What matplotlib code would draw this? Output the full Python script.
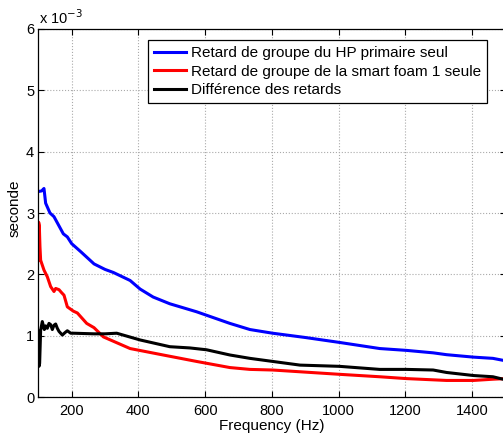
import matplotlib
matplotlib.use('Agg')
import matplotlib.pyplot as plt

plt.rcParams['font.family'] = ['Liberation Sans', 'DejaVu Sans']
plt.rcParams['font.size'] = 10

# group delay of primary speaker alone (x 1e-3 s)
f_hp = [100, 110, 117, 122, 135, 147, 175, 187, 200, 227, 267, 300, 325, 375, 405,
        444, 494, 574, 674, 734, 802, 900, 1002, 1123, 1203, 1283, 1323, 1404, 1462, 1500]
hp = [3.35, 3.36, 3.40, 3.16, 3.00, 2.94, 2.66, 2.61, 2.50, 2.37, 2.17, 2.08, 2.03, 1.90, 1.76,
      1.63, 1.52, 1.39, 1.20, 1.10, 1.04, 0.97, 0.89, 0.79, 0.76, 0.72, 0.69, 0.65, 0.63, 0.59]

# group delay of smart foam 1 alone
f_sf = [100, 101, 103, 105, 107, 117, 127, 137, 147, 152, 162, 170, 177, 187, 205, 217,
        245, 267, 295, 375, 474, 574, 674, 734, 802, 1002, 1123, 1203, 1323, 1404, 1462, 1500]
sf = [2.23, 2.85, 2.80, 2.45, 2.23, 2.07, 1.96, 1.80, 1.72, 1.77, 1.75, 1.70, 1.66, 1.47, 1.40, 1.37,
      1.20, 1.13, 0.98, 0.79, 0.685, 0.58, 0.48, 0.45, 0.44, 0.37, 0.33, 0.30, 0.27, 0.27, 0.29, 0.30]

# difference
f_diff = [100, 102, 104, 107, 112, 118, 122, 127, 132, 137, 142, 147, 152, 157, 162, 172, 180,
          187, 197, 205, 267, 300, 335, 405, 494, 554, 604, 674, 734, 802, 884, 1002, 1123,
          1203, 1283, 1323, 1404, 1462, 1500]
diff = [1.07, 0.50, 0.55, 1.09, 1.23, 1.10, 1.16, 1.12, 1.20, 1.18, 1.10, 1.17, 1.19, 1.12, 1.07,
        1.01, 1.05, 1.08, 1.04, 1.04, 1.03, 1.03, 1.04, 0.93, 0.82, 0.80, 0.77, 0.685, 0.63, 0.58,
        0.52, 0.50, 0.45, 0.45, 0.44, 0.40, 0.35, 0.33, 0.28]

labels = ['Retard de groupe du HP primaire seul',
          'Retard de groupe de la smart foam 1 seule',
          'Différence des retards']

W, H = 503, 436
fig = plt.figure(figsize=(W / 100, H / 100), dpi=100)
ax = fig.add_axes([38.3 / W, 39 / H, 467.3 / W, 368 / H])

ax.plot(f_hp, hp, color='#0000ff', lw=2.2, label=labels[0])
ax.plot(f_sf, sf, color='#ff0000', lw=2.2, label=labels[1])
ax.plot(f_diff, diff, color='black', lw=2.2, label=labels[2])

ax.set_xlim(100, 1500)
ax.set_ylim(0, 6)
ax.set_xticks([200, 400, 600, 800, 1000, 1200, 1400])
ax.set_yticks(range(7))
ax.grid(True, linestyle=':', color='#aaaaaa', linewidth=0.8)
ax.tick_params(direction='in', top=True, right=True, length=4, labelsize=10.5)
ax.tick_params(axis='x', pad=5)
ax.tick_params(axis='y', pad=3)
for s in ax.spines.values():
    s.set_linewidth(0.9)

fig.text(39 / W, 1 - 24 / H, r'x 10$^{-3}$', fontsize=10.5, va='baseline', ha='left')
fig.text(15 / W, 1 - 208 / H, 'seconde', rotation=90, ha='center', va='center', fontsize=11)
fig.text(272 / W, 1 - 426 / H, 'Frequency (Hz)', ha='center', va='center', fontsize=11)

leg = ax.legend(loc='upper right', bbox_to_anchor=(0.960, 0.970), borderaxespad=0,
                fontsize=11, handlelength=2.1, handletextpad=0.3, labelspacing=0.3,
                borderpad=0.4, fancybox=False, framealpha=1)
leg.get_frame().set_edgecolor('black')
leg.get_frame().set_linewidth(0.9)

fig.savefig('out.png', dpi=100)
